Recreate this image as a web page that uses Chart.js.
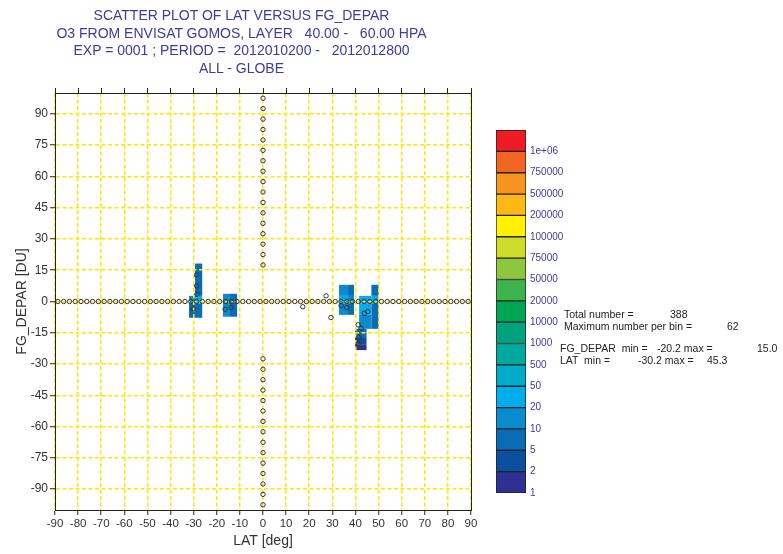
<!DOCTYPE html>
<html>
<head>
<meta charset="utf-8">
<script src="https://cdn.jsdelivr.net/npm/chart.js@4.4.1/dist/chart.umd.min.js"></script>
<style>
  body { margin: 0; background: #fff; font-family: "Liberation Sans", Arial, sans-serif; }
  #wrap { position: relative; width: 783px; height: 554px; }
  #title { position: absolute; left: 0; top: 7px; width: 483px; text-align: center;
           color: #3c3c9c; font-size: 14px; line-height: 17.7px; white-space: pre; }
  #mainChart { position: absolute; left: 0; top: 0; }
  #barChart { position: absolute; left: 490px; top: 120px; }
  .stat { position: absolute; font-size: 10.5px; line-height: 13px; color: #222; white-space: pre; }
</style>
</head>
<body>
<div id="wrap">
  <canvas id="mainChart" width="483" height="554"></canvas>
  <canvas id="barChart" width="90" height="385"></canvas>
  <div id="title">SCATTER PLOT OF LAT VERSUS FG_DEPAR
O3 FROM ENVISAT GOMOS, LAYER   40.00 -   60.00 HPA
EXP = 0001 ; PERIOD =  2012010200 -   2012012800
ALL - GLOBE</div>
  <div class="stat" style="left:564px;top:308px">Total number =</div>
  <div class="stat" style="left:670px;top:308px">388</div>
  <div class="stat" style="left:564px;top:320px">Maximum number per bin =</div>
  <div class="stat" style="left:727px;top:320px">62</div>
  <div class="stat" style="left:560px;top:342px">FG_DEPAR  min =</div>
  <div class="stat" style="left:657px;top:342px">-20.2 max =</div>
  <div class="stat" style="left:757px;top:342px">15.0</div>
  <div class="stat" style="left:560px;top:354px">LAT  min =</div>
  <div class="stat" style="left:638px;top:354px">-30.2 max =</div>
  <div class="stat" style="left:707px;top:354px">45.3</div>
</div>
<script>
// --- AXES ---
const latTicks = [-90, -80, -70, -60, -50, -40, -30, -20, -10, 0, 10, 20, 30, 40, 50, 60, 70, 80, 90];
const deparTicks = [-90, -75, -60, -45, -30, -15, 0, 15, 30, 45, 60, 75, 90];

// --- COLOUR CLASSES (bottom to top of the colour bar) ---
const classLimits = [1, 2, 5, 10, 20, 50, 500, 1000, 10000, 20000, 50000, 75000, 100000, 200000, 500000, 750000, 1000000];
const classLabels = ['1', '2', '5', '10', '20', '50', '500', '1000', '10000', '20000', '50000', '75000', '100000', '200000', '500000', '750000', '1e+06'];
const classColors = ['#2e3192', '#0b4f9f', '#0a6cb5', '#0a8bd0', '#00aeef', '#00acc8', '#00a99d', '#00a37e',
                     '#00a651', '#3cb44a', '#8dc63f', '#cddc29', '#fff100', '#fdb913', '#f7941d', '#f26522', '#ed1c24'];

// --- 2D HISTOGRAM BINS ---
const binLat0 = [-32.0, -32.0, -29.4, -29.4, -29.4, -17.3, -14.3,
                 32.9, 36.8, 32.9, 36.8, 32.9, 36.8,
                 46.9, 46.9, 46.9, 41.6, 41.6, 41.6, 39.8, 39.8, 39.8];
const binLat1 = [-29.4, -29.4, -26.3, -26.3, -26.3, -14.3, -11.2,
                 36.8, 39.4, 36.8, 39.4, 36.8, 39.4,
                 50.0, 50.0, 50.0, 46.9, 46.9, 46.9, 44.8, 44.8, 44.8];
const binDep0 = [-1.1, -7.8, 2.7, -1.1, -7.8, -7.3, -7.3,
                 2.7, 2.7, -1.1, -1.1, -6.4, -6.4,
                 2.7, -1.1, -13.1, -1.1, -6.4, -13.1, -17.5, -20.5, -23.3];
const binDep1 = [2.7, -1.1, 18.2, 2.7, -1.1, 3.7, 3.7,
                 8.0, 8.0, 2.7, 2.7, -1.1, -1.1,
                 8.0, 2.7, -1.1, 2.7, -1.1, -6.4, -13.1, -17.5, -20.5];
const binCount = [15, 8, 6, 30, 7, 14, 7,
                  12, 6, 25, 15, 12, 7,
                  6, 25, 7, 40, 28, 12, 6, 3, 1];

// --- POINTS ---
// observations along FG_DEPAR = 0
const zeroLineLat = [-88.75, -86.25, -83.75, -81.25, -78.75, -76.25, -73.75, -71.25, -68.75, -66.25,
  -63.75, -61.25, -58.75, -56.25, -53.75, -51.25, -48.75, -46.25, -43.75, -41.25,
  -38.75, -36.25, -33.75, -31.25, -28.75, -26.25, -23.75, -21.25, -18.75, -16.25,
  -13.75, -11.25, -8.75, -6.25, -3.75, -1.25, 1.25, 3.75, 6.25, 8.75,
  11.25, 13.75, 16.25, 18.75, 21.25, 23.75, 26.25, 28.75, 31.25, 33.75,
  36.25, 38.75, 41.25, 43.75, 46.25, 48.75, 51.25, 53.75, 56.25, 58.75,
  61.25, 63.75, 66.25, 68.75, 71.25, 73.75, 76.25, 78.75, 81.25, 83.75, 86.25, 88.75];
// observations along LAT = 0
const zeroLatDepar = [97.5, 92.5, 87.5, 82.5, 77.5, 72.5, 67.5, 62.5, 57.5, 52.5, 47.5, 42.5, 37.5, 32.5, 27.5, 22.5, 17.5,
  -27.5, -32.5, -37.5, -42.5, -47.5, -52.5, -57.5, -62.5, -67.5, -72.5, -77.5, -82.5, -87.5, -92.5, -97.5];
// remaining observations
const obsLat = [-28.8, -28.8, -28.6, -30.2, -16.4, -13.8, 17.2, 27.3, 29.4, 33.8, 36.2, 43.8, 45.3, 41.2, 42.4, 41.5, 41.2];
const obsDepar = [12.8, 7.5, 3.5, -3.5, -3.7, -2.9, -2.5, 2.7, -7.7, -2.0, -2.9, -5.6, -4.8, -11.2, -12.8, -17.2, -20.2];

function classColor(count) {
    let idx = 0;
    for (let i = 0; i < classLimits.length; i++) {
        if (count >= classLimits[i]) idx = i;
    }
    return classColors[idx];
}

// bins are drawn before the grid so the dashed lines sit on top of them
const binPlugin = {
    id: 'bins',
    beforeDraw(chart) {
        const {ctx, chartArea, scales: {x, y}} = chart;
        ctx.save();
        ctx.beginPath();
        ctx.rect(chartArea.left, chartArea.top, chartArea.right - chartArea.left, chartArea.bottom - chartArea.top);
        ctx.clip();
        binCount.forEach((c, i) => {
            const px0 = x.getPixelForValue(binLat0[i]);
            const px1 = x.getPixelForValue(binLat1[i]);
            const py0 = y.getPixelForValue(binDep1[i]);
            const py1 = y.getPixelForValue(binDep0[i]);
            ctx.fillStyle = classColor(c);
            ctx.fillRect(px0, py0, px1 - px0, py1 - py0);
        });
        ctx.restore();
    }
};

const axisColor = '#222';
const gridYellow = '#ffe800';
const tickFont = {family: '"Liberation Sans", Arial, sans-serif', size: 12};

const pointStyle = {
    pointRadius: 2.2,
    pointBorderWidth: 1,
    pointBorderColor: '#333',
    pointBackgroundColor: 'rgba(0,0,0,0)',
    showLine: false
};

new Chart(document.getElementById('mainChart'), {
    type: 'scatter',
    data: {
        datasets: [
            Object.assign({ label: 'depar0', data: zeroLineLat.map(v => ({x: v, y: 0})) }, pointStyle),
            Object.assign({ label: 'lat0', data: zeroLatDepar.map(v => ({x: 0, y: v})) }, pointStyle),
            Object.assign({ label: 'obs', data: obsLat.map((v, i) => ({x: v, y: obsDepar[i]})) }, pointStyle)
        ]
    },
    options: {
        responsive: false,
        devicePixelRatio: 1,
        animation: false,
        layout: { padding: { top: 93, right: 12, left: 0, bottom: 0 } },
        plugins: { legend: { display: false }, tooltip: { enabled: false } },
        scales: {
            x: {
                type: 'linear', position: 'bottom', min: -90, max: 90,
                afterBuildTicks: s => { s.ticks = latTicks.map(v => ({value: v})); },
                afterFit: s => { s.height = 44; },
                grid: { color: gridYellow, lineWidth: 1.5, tickLength: 5, tickColor: axisColor, tickWidth: 1 },
                border: { color: axisColor, width: 1, dash: [4, 2.5] },
                ticks: { color: '#333', font: {family: tickFont.family, size: 11.5}, padding: 2, maxRotation: 0, autoSkip: false },
                title: { display: true, text: 'LAT [deg]', color: '#333',
                         font: {family: tickFont.family, size: 14}, padding: {top: 0, bottom: 4} }
            },
            xt: {
                type: 'linear', position: 'top', min: -90, max: 90,
                afterBuildTicks: s => { s.ticks = latTicks.map(v => ({value: v})); },
                afterFit: s => { s.height = 0; },
                grid: { drawOnChartArea: false, tickLength: 5, tickColor: axisColor },
                border: { color: axisColor, width: 1 },
                ticks: { display: false }
            },
            y: {
                type: 'linear', position: 'left', min: -100, max: 100,
                afterBuildTicks: s => { s.ticks = deparTicks.map(v => ({value: v})); },
                afterFit: s => { s.width = 55; },
                grid: { color: gridYellow, lineWidth: 1.5, tickLength: 5, tickColor: axisColor, tickWidth: 1 },
                border: { color: axisColor, width: 1, dash: [4, 2.5] },
                ticks: { color: '#333', font: tickFont, padding: 2, autoSkip: false },
                title: { display: true, text: 'FG_DEPAR [DU]', color: '#333',
                         font: {family: tickFont.family, size: 14}, padding: {top: 14, bottom: 0} }
            },
            yr: {
                type: 'linear', position: 'right', min: -100, max: 100,
                afterFit: s => { s.width = 0; },
                grid: { drawOnChartArea: false, drawTicks: false },
                border: { color: axisColor, width: 1 },
                ticks: { display: false }
            }
        }
    },
    plugins: [binPlugin]
});

// --- COLOUR BAR ---
new Chart(document.getElementById('barChart'), {
    type: 'bar',
    data: {
        labels: ['classes'],
        datasets: classColors.map((c, i) => ({
            label: classLabels[i],
            data: [1],
            backgroundColor: c,
            borderColor: '#222',
            borderWidth: 1,
            borderSkipped: false,
            barPercentage: 1,
            categoryPercentage: 1
        }))
    },
    options: {
        responsive: false,
        devicePixelRatio: 1,
        animation: false,
        layout: { padding: { top: 10, right: 0, left: 6, bottom: 12 } },
        plugins: { legend: { display: false }, tooltip: { enabled: false } },
        scales: {
            x: { stacked: true, display: false },
            y: {
                stacked: true, position: 'right', min: 0, max: 17,
                afterBuildTicks: s => { s.ticks = classLabels.map((l, i) => ({value: i})); },
                afterFit: s => { s.width = 54; },
                grid: { display: false, drawTicks: false },
                border: { display: false },
                ticks: {
                    color: '#3c3c9c', padding: 4, autoSkip: false,
                    font: {family: tickFont.family, size: 10},
                    callback: (v, i) => classLabels[i]
                }
            }
        }
    }
});
</script>
</body>
</html>
